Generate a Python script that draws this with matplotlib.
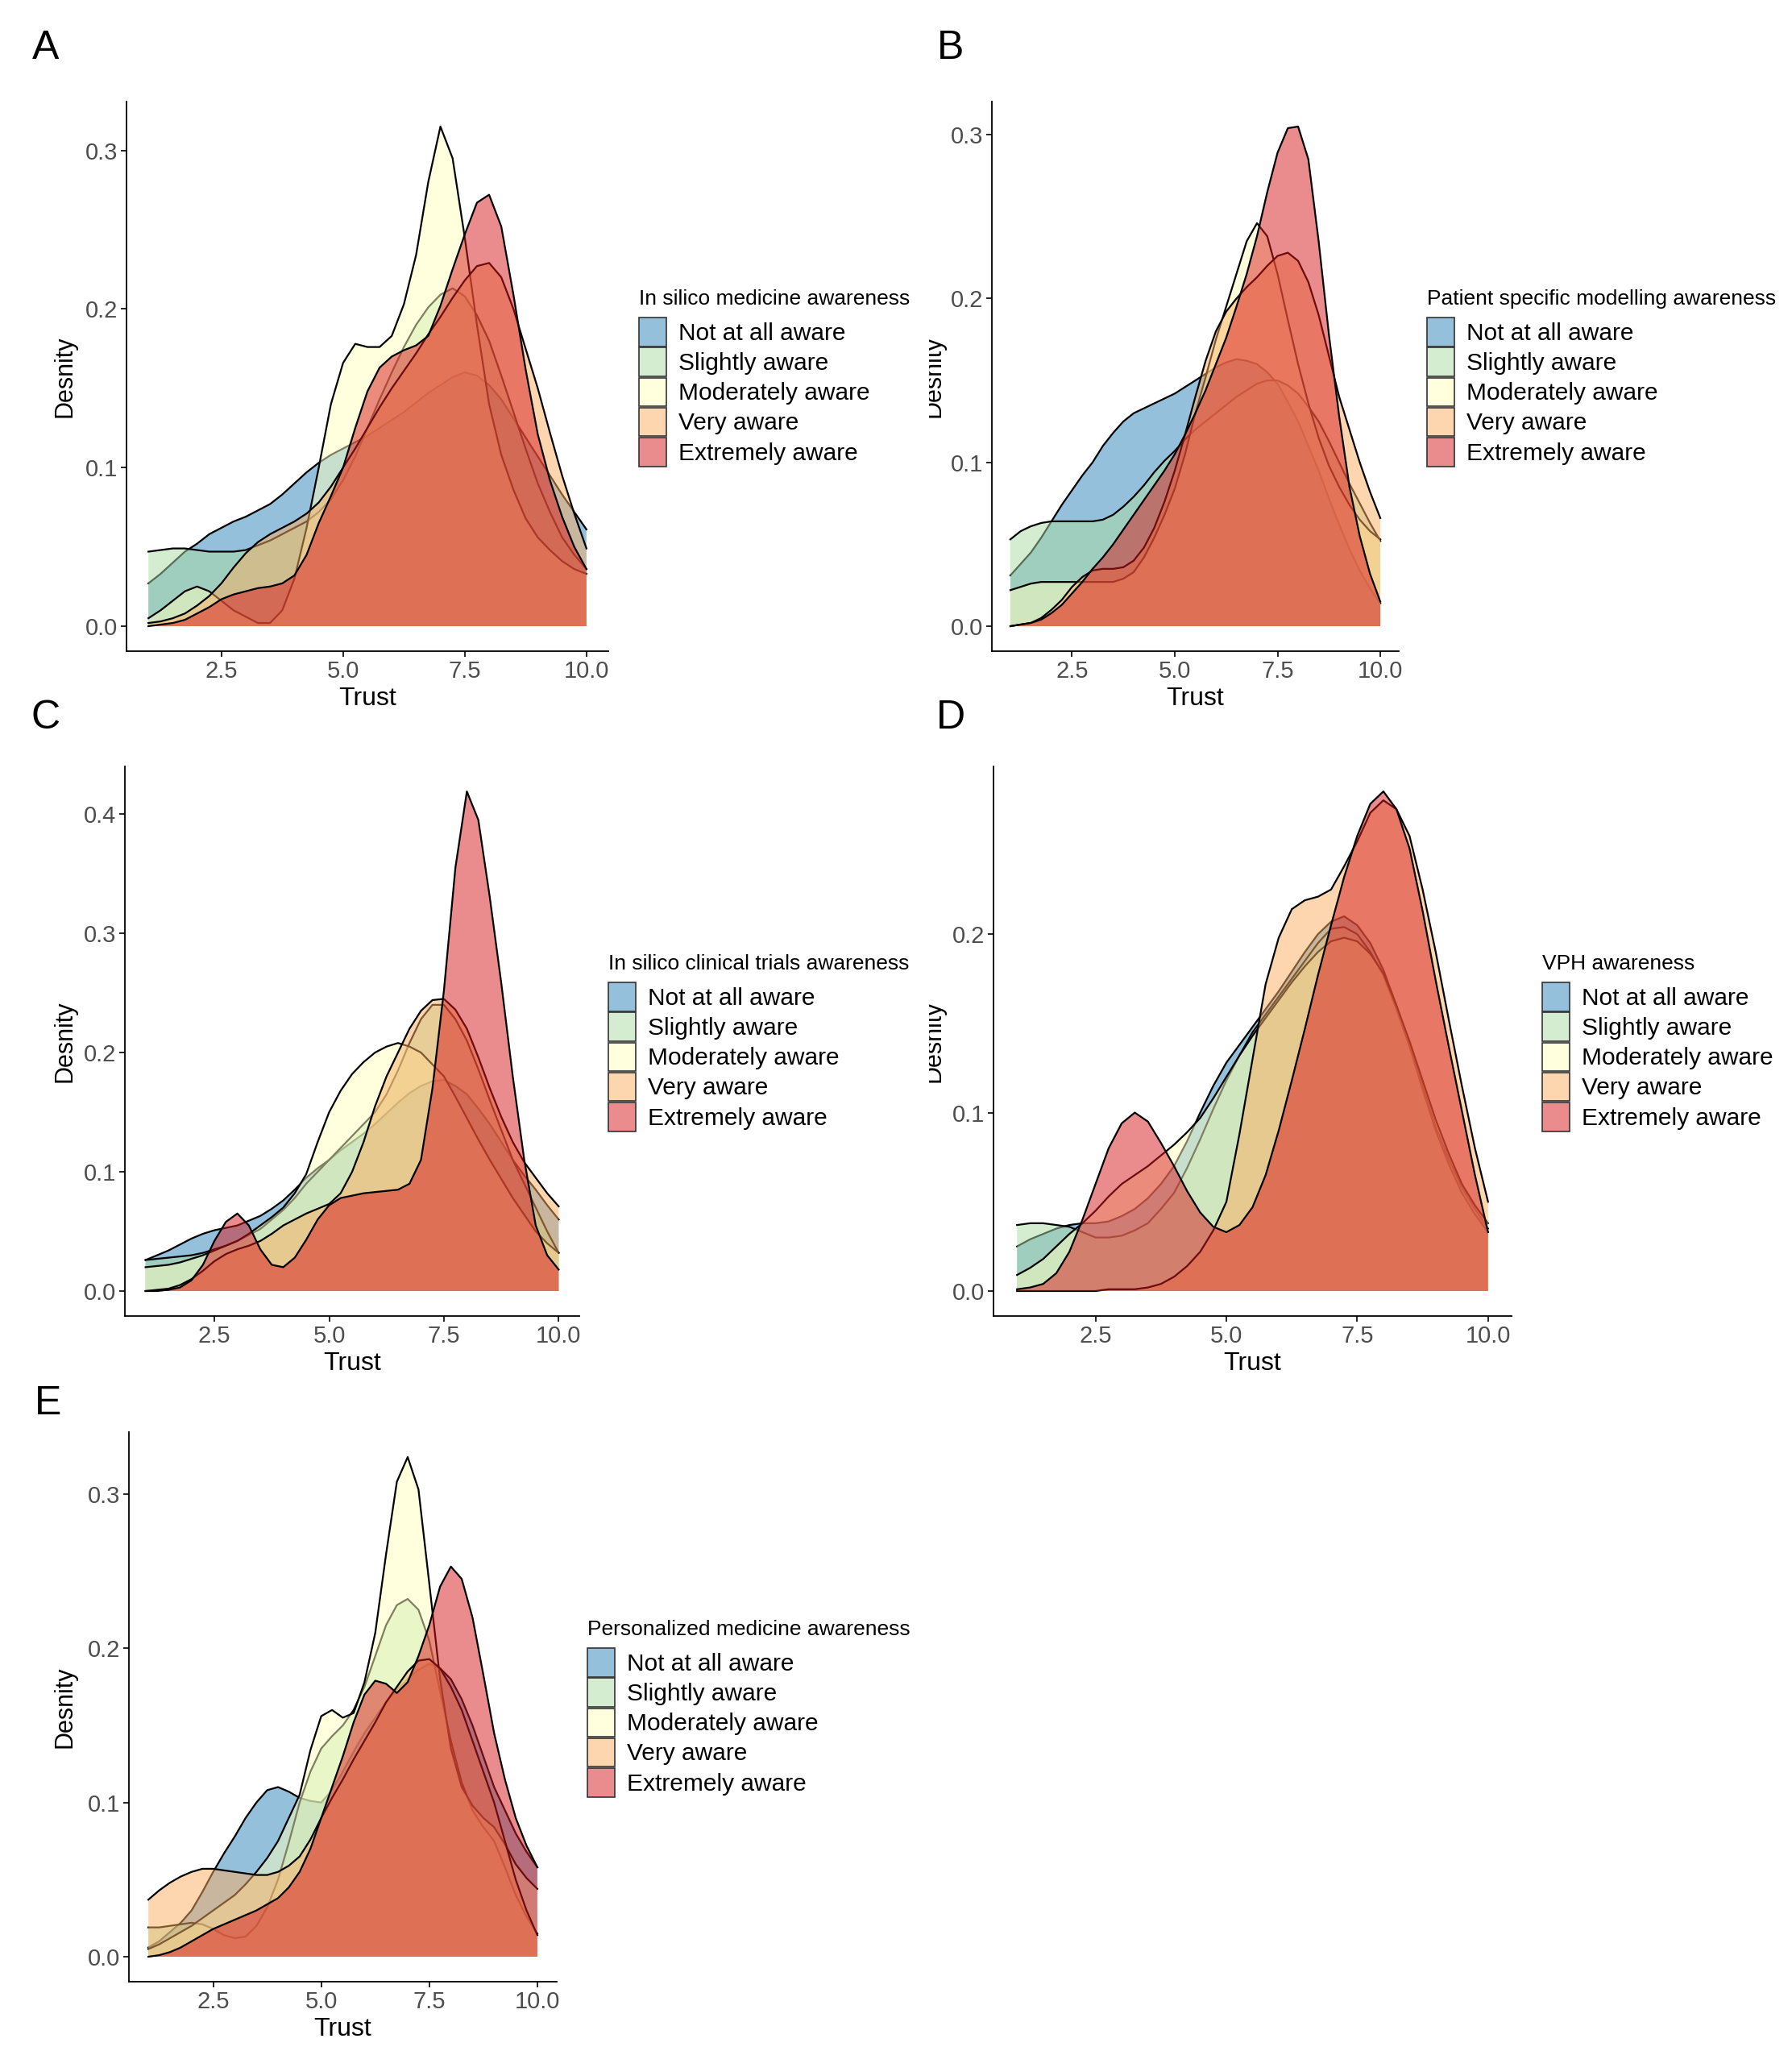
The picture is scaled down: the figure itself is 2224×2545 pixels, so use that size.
import matplotlib
matplotlib.use("Agg")
import matplotlib.pyplot as plt
from matplotlib.colors import to_rgba
from matplotlib.patches import Patch
from matplotlib.transforms import Bbox, TransformedBbox

plt.rcParams["font.family"] = ["Liberation Sans", "DejaVu Sans"]

# Trust grid the densities were read at
trust = [1.0, 1.25, 1.5, 1.75, 2.0, 2.25, 2.5, 2.75, 3.0, 3.25, 3.5, 3.75,
         4.0, 4.25, 4.5, 4.75, 5.0, 5.25, 5.5, 5.75, 6.0, 6.25, 6.5, 6.75,
         7.0, 7.25, 7.5, 7.75, 8.0, 8.25, 8.5, 8.75, 9.0, 9.25, 9.5, 9.75, 10.0]

levels = ["Not at all aware", "Slightly aware", "Moderately aware",
          "Very aware", "Extremely aware"]
fill_colors = ["#2B83BA", "#ABDDA4", "#FFFFBF", "#FDAE61", "#D7191C"]

# A: In silico medicine awareness
a_not = [0.027, 0.033, 0.040, 0.047, 0.052, 0.058, 0.062, 0.066, 0.069, 0.073, 0.077, 0.083,
         0.090, 0.097, 0.103, 0.108, 0.112, 0.116, 0.120, 0.125, 0.130, 0.135, 0.141, 0.147,
         0.152, 0.157, 0.160, 0.158, 0.152, 0.143, 0.131, 0.119, 0.107, 0.095, 0.083, 0.072, 0.061]
a_slight = [0.047, 0.048, 0.049, 0.049, 0.048, 0.047, 0.047, 0.047, 0.048, 0.051, 0.054, 0.058,
            0.062, 0.066, 0.072, 0.080, 0.092, 0.107, 0.125, 0.143, 0.160, 0.176, 0.190, 0.201,
            0.209, 0.213, 0.208, 0.196, 0.180, 0.158, 0.135, 0.112, 0.090, 0.072, 0.056, 0.045, 0.036]
a_moder = [0.005, 0.010, 0.016, 0.022, 0.025, 0.022, 0.016, 0.010, 0.006, 0.002, 0.002, 0.010,
           0.030, 0.062, 0.100, 0.140, 0.166, 0.178, 0.176, 0.176, 0.183, 0.203, 0.234, 0.280,
           0.315, 0.295, 0.245, 0.190, 0.140, 0.108, 0.086, 0.068, 0.056, 0.048, 0.041, 0.036, 0.033]
a_very = [0.002, 0.003, 0.005, 0.008, 0.013, 0.019, 0.027, 0.037, 0.046, 0.053, 0.058, 0.062,
          0.066, 0.071, 0.078, 0.088, 0.100, 0.112, 0.125, 0.138, 0.150, 0.161, 0.172, 0.184,
          0.195, 0.207, 0.218, 0.227, 0.229, 0.220, 0.200, 0.175, 0.150, 0.122, 0.095, 0.071, 0.049]
a_extr = [0.000, 0.001, 0.002, 0.004, 0.008, 0.012, 0.017, 0.020, 0.022, 0.024, 0.025, 0.027,
          0.032, 0.045, 0.065, 0.082, 0.100, 0.125, 0.148, 0.163, 0.170, 0.174, 0.177, 0.183,
          0.202, 0.225, 0.247, 0.267, 0.272, 0.252, 0.209, 0.162, 0.121, 0.092, 0.069, 0.050, 0.036]

# B: Patient specific modelling awareness
b_not = [0.031, 0.038, 0.045, 0.054, 0.064, 0.074, 0.083, 0.092, 0.100, 0.110, 0.118, 0.125,
         0.130, 0.133, 0.136, 0.139, 0.142, 0.146, 0.150, 0.154, 0.158, 0.161, 0.163, 0.162,
         0.160, 0.155, 0.148, 0.137, 0.125, 0.110, 0.095, 0.078, 0.062, 0.047, 0.034, 0.023, 0.014]
b_slight = [0.053, 0.058, 0.061, 0.063, 0.064, 0.064, 0.064, 0.064, 0.064, 0.065, 0.068, 0.073,
            0.079, 0.086, 0.094, 0.101, 0.107, 0.114, 0.120, 0.125, 0.130, 0.135, 0.140, 0.144,
            0.148, 0.150, 0.150, 0.147, 0.142, 0.134, 0.125, 0.113, 0.100, 0.087, 0.075, 0.063, 0.052]
b_moder = [0.022, 0.024, 0.026, 0.027, 0.027, 0.027, 0.027, 0.027, 0.027, 0.027, 0.027, 0.029,
           0.033, 0.042, 0.054, 0.068, 0.084, 0.105, 0.130, 0.152, 0.175, 0.195, 0.215, 0.235,
           0.246, 0.238, 0.215, 0.187, 0.160, 0.136, 0.115, 0.098, 0.085, 0.074, 0.065, 0.058, 0.053]
b_very = [0.000, 0.001, 0.002, 0.005, 0.010, 0.016, 0.024, 0.030, 0.034, 0.035, 0.035, 0.036,
          0.040, 0.048, 0.060, 0.076, 0.095, 0.117, 0.140, 0.162, 0.180, 0.192, 0.200, 0.207,
          0.213, 0.220, 0.226, 0.228, 0.223, 0.210, 0.190, 0.165, 0.140, 0.120, 0.100, 0.082, 0.066]
b_extr = [0.000, 0.001, 0.002, 0.004, 0.008, 0.013, 0.020, 0.027, 0.035, 0.042, 0.050, 0.059,
          0.068, 0.077, 0.086, 0.095, 0.105, 0.117, 0.130, 0.144, 0.160, 0.176, 0.195, 0.215,
          0.238, 0.265, 0.289, 0.304, 0.305, 0.285, 0.235, 0.178, 0.128, 0.085, 0.055, 0.032, 0.015]

# C: In silico clinical trials awareness
c_not = [0.026, 0.030, 0.034, 0.039, 0.044, 0.048, 0.051, 0.053, 0.055, 0.059, 0.063, 0.069,
         0.076, 0.085, 0.095, 0.103, 0.110, 0.118, 0.125, 0.132, 0.140, 0.149, 0.158, 0.166,
         0.172, 0.176, 0.177, 0.172, 0.165, 0.153, 0.140, 0.125, 0.110, 0.097, 0.085, 0.072, 0.060]
c_slight = [0.026, 0.027, 0.028, 0.029, 0.030, 0.032, 0.035, 0.038, 0.042, 0.047, 0.052, 0.060,
            0.068, 0.078, 0.090, 0.100, 0.110, 0.120, 0.130, 0.140, 0.150, 0.165, 0.185, 0.208,
            0.228, 0.240, 0.240, 0.228, 0.210, 0.186, 0.160, 0.135, 0.110, 0.090, 0.070, 0.050, 0.032]
c_moder = [0.020, 0.021, 0.022, 0.024, 0.027, 0.030, 0.034, 0.038, 0.042, 0.048, 0.055, 0.062,
           0.070, 0.082, 0.098, 0.125, 0.150, 0.168, 0.182, 0.192, 0.200, 0.205, 0.208, 0.205,
           0.200, 0.190, 0.180, 0.163, 0.145, 0.127, 0.110, 0.094, 0.078, 0.064, 0.050, 0.040, 0.032]
c_very = [0.000, 0.001, 0.002, 0.005, 0.010, 0.017, 0.025, 0.031, 0.035, 0.038, 0.042, 0.048,
          0.055, 0.060, 0.065, 0.069, 0.073, 0.082, 0.100, 0.125, 0.155, 0.180, 0.200, 0.220,
          0.235, 0.244, 0.245, 0.236, 0.220, 0.196, 0.170, 0.146, 0.125, 0.108, 0.095, 0.082, 0.071]
c_extr = [0.000, 0.000, 0.001, 0.003, 0.009, 0.022, 0.042, 0.058, 0.065, 0.055, 0.035, 0.022,
          0.020, 0.028, 0.043, 0.060, 0.072, 0.078, 0.080, 0.082, 0.083, 0.084, 0.085, 0.090,
          0.110, 0.170, 0.252, 0.355, 0.419, 0.395, 0.330, 0.258, 0.180, 0.110, 0.055, 0.030, 0.018]

# D: VPH awareness
d_not = [0.025, 0.029, 0.032, 0.035, 0.037, 0.038, 0.038, 0.039, 0.042, 0.046, 0.052, 0.060,
         0.070, 0.084, 0.100, 0.115, 0.128, 0.138, 0.148, 0.158, 0.168, 0.179, 0.190, 0.200,
         0.207, 0.210, 0.205, 0.195, 0.180, 0.160, 0.138, 0.115, 0.092, 0.074, 0.058, 0.046, 0.035]
d_slight = [0.037, 0.038, 0.038, 0.037, 0.036, 0.033, 0.030, 0.030, 0.031, 0.034, 0.038, 0.046,
            0.055, 0.069, 0.085, 0.102, 0.118, 0.132, 0.145, 0.155, 0.165, 0.175, 0.185, 0.195,
            0.203, 0.204, 0.200, 0.190, 0.177, 0.158, 0.137, 0.113, 0.090, 0.071, 0.055, 0.043, 0.033]
d_moder = [0.009, 0.013, 0.018, 0.025, 0.032, 0.038, 0.045, 0.053, 0.060, 0.065, 0.070, 0.076,
           0.082, 0.089, 0.097, 0.108, 0.120, 0.132, 0.143, 0.153, 0.163, 0.173, 0.182, 0.190,
           0.196, 0.198, 0.196, 0.189, 0.178, 0.160, 0.140, 0.118, 0.096, 0.077, 0.060, 0.048, 0.038]
d_very = [0.000, 0.000, 0.000, 0.000, 0.000, 0.000, 0.000, 0.001, 0.001, 0.001, 0.002, 0.004,
          0.008, 0.014, 0.022, 0.034, 0.050, 0.088, 0.130, 0.172, 0.198, 0.214, 0.219, 0.221,
          0.225, 0.238, 0.252, 0.268, 0.275, 0.270, 0.255, 0.225, 0.190, 0.152, 0.115, 0.080, 0.050]
d_extr = [0.001, 0.002, 0.004, 0.010, 0.022, 0.040, 0.060, 0.080, 0.094, 0.100, 0.095, 0.083,
          0.070, 0.056, 0.044, 0.036, 0.033, 0.037, 0.047, 0.065, 0.090, 0.118, 0.147, 0.177,
          0.205, 0.232, 0.255, 0.273, 0.280, 0.270, 0.248, 0.213, 0.174, 0.137, 0.101, 0.065, 0.033]

# E: Personalized medicine awareness
e_not = [0.006, 0.010, 0.016, 0.022, 0.030, 0.042, 0.055, 0.067, 0.078, 0.090, 0.100, 0.108,
         0.110, 0.107, 0.103, 0.101, 0.100, 0.108, 0.120, 0.133, 0.145, 0.155, 0.165, 0.173,
         0.180, 0.186, 0.190, 0.187, 0.180, 0.167, 0.150, 0.130, 0.110, 0.095, 0.080, 0.068, 0.058]
e_slight = [0.019, 0.019, 0.020, 0.021, 0.022, 0.021, 0.018, 0.014, 0.012, 0.013, 0.020, 0.032,
            0.050, 0.074, 0.100, 0.120, 0.135, 0.143, 0.150, 0.160, 0.175, 0.195, 0.215, 0.228,
            0.232, 0.225, 0.205, 0.172, 0.140, 0.113, 0.095, 0.084, 0.075, 0.058, 0.040, 0.026, 0.015]
e_moder = [0.005, 0.008, 0.012, 0.016, 0.020, 0.025, 0.030, 0.035, 0.040, 0.047, 0.055, 0.064,
           0.075, 0.090, 0.105, 0.134, 0.156, 0.160, 0.155, 0.158, 0.178, 0.210, 0.261, 0.308,
           0.324, 0.303, 0.242, 0.180, 0.135, 0.110, 0.098, 0.090, 0.084, 0.073, 0.060, 0.051, 0.044]
e_very = [0.037, 0.043, 0.048, 0.052, 0.055, 0.057, 0.057, 0.056, 0.055, 0.054, 0.053, 0.053,
          0.055, 0.059, 0.065, 0.076, 0.090, 0.103, 0.115, 0.128, 0.140, 0.152, 0.165, 0.175,
          0.185, 0.192, 0.193, 0.187, 0.175, 0.160, 0.140, 0.120, 0.100, 0.075, 0.050, 0.030, 0.014]
e_extr = [0.000, 0.001, 0.003, 0.006, 0.010, 0.014, 0.018, 0.021, 0.024, 0.027, 0.030, 0.034,
          0.038, 0.045, 0.055, 0.070, 0.090, 0.110, 0.130, 0.152, 0.170, 0.179, 0.177, 0.171,
          0.178, 0.195, 0.215, 0.240, 0.253, 0.245, 0.220, 0.183, 0.145, 0.115, 0.090, 0.072, 0.058]

W, H = 2224, 2545
fig = plt.figure(figsize=(W / 100, H / 100), dpi=100)


def fig_box(left, right, top, bottom):
    # pixel box -> figure fraction rect
    return [left / W, 1 - bottom / H, (right - left) / W, (bottom - top) / H]


panels = [
    # letter, curves, legend title, axes px box, y ticks, legend px, letter px, ylabel px x, clip
    ("A", [a_not, a_slight, a_moder, a_very, a_extr], "In silico medicine awareness",
     (157, 755, 126, 808), [0.0, 0.1, 0.2, 0.3], (793, 359), (57, 60), 81, None),
    ("B", [b_not, b_slight, b_moder, b_very, b_extr], "Patient specific modelling awareness",
     (1231, 1736, 126, 808), [0.0, 0.1, 0.2, 0.3], (1771, 359), (1180, 60), 1159, 1153),
    ("C", [c_not, c_slight, c_moder, c_very, c_extr], "In silico clinical trials awareness",
     (155, 719, 951, 1633), [0.0, 0.1, 0.2, 0.3, 0.4], (755, 1184), (57, 891), 81, None),
    ("D", [d_not, d_slight, d_moder, d_very, d_extr], "VPH awareness",
     (1233, 1876, 951, 1633), [0.0, 0.1, 0.2], (1914, 1184), (1180, 891), 1159, 1153),
    ("E", [e_not, e_slight, e_moder, e_very, e_extr], "Personalized medicine awareness",
     (160, 691, 1777, 2459), [0.0, 0.1, 0.2, 0.3], (729, 2010), (60, 1742), 81, None),
]

for letter, curves, leg_title, box, yticks, leg_px, let_px, ylab_x, clip_x in panels:
    ax = fig.add_axes(fig_box(*box))

    for i, ys in enumerate(curves):
        ax.fill_between(trust, 0, ys, facecolor=fill_colors[i], alpha=0.5,
                        linewidth=0, zorder=2 + 2 * i)
        ax.plot(trust, ys, color="black", lw=1.6, zorder=3 + 2 * i)

    ymax = max(max(ys) for ys in curves)
    ax.set_xlim(0.55, 10.45)
    ax.set_ylim(-0.05 * ymax, 1.05 * ymax)

    ax.set_xticks([2.5, 5.0, 7.5, 10.0])
    ax.set_xticklabels(["2.5", "5.0", "7.5", "10.0"])
    ax.set_yticks(yticks)
    ax.set_yticklabels([f"{t:.1f}" for t in yticks])

    for side in ["top", "right"]:
        ax.spines[side].set_visible(False)
    for side in ["left", "bottom"]:
        ax.spines[side].set_linewidth(1.3)
    ax.tick_params(length=5, width=1.2, labelsize=21, labelcolor="#4D4D4D", pad=3)

    ax.set_xlabel("Trust", fontsize=23)
    ax.xaxis.set_label_coords(0.5, -44 / (box[3] - box[2]))

    # y axis title placed in pixel coords so it can be cropped like the original
    ytxt = fig.text(ylab_x / W, 1 - (box[2] + box[3]) / 2 / H, "Desnity", fontsize=22,
                    rotation=90, ha="center", va="center")
    if clip_x is not None:
        ytxt.set_clip_box(TransformedBbox(Bbox([[clip_x / W, 0], [1, 1]]), fig.transFigure))
        ytxt.set_clip_on(True)

    handles = [Patch(facecolor=to_rgba(c, 0.5), edgecolor="#333333", linewidth=1.2)
               for c in fill_colors]
    leg = ax.legend(handles, levels, title=leg_title, loc="upper left",
                    bbox_to_anchor=(leg_px[0] / W, 1 - leg_px[1] / H),
                    bbox_transform=fig.transFigure, frameon=False,
                    fontsize=21.5, title_fontsize=19,
                    handlelength=1.15, handleheight=1.45, labelspacing=0.06,
                    handletextpad=0.5, borderpad=0, borderaxespad=0)
    leg._legend_box.align = "left"
    leg._legend_box.sep = 8  # a bit more room under the legend title

    fig.text(let_px[0] / W, 1 - let_px[1] / H, letter, fontsize=36,
             ha="center", va="center")

fig.savefig("out.png", dpi=100, facecolor="white")
